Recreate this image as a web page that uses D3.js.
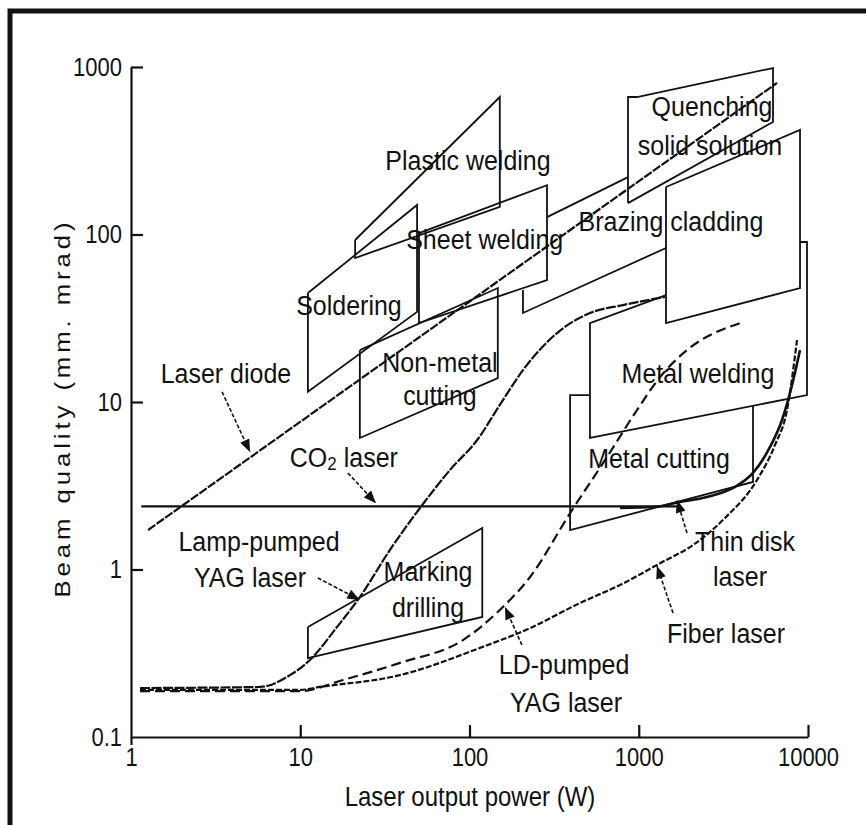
<!DOCTYPE html>
<html>
<head>
<meta charset="utf-8">
<script src="https://cdn.jsdelivr.net/npm/d3@7/dist/d3.min.js"></script>
<style>
  body { margin: 0; background: #fff; }
  svg text { font-family: "Liberation Sans", Arial, sans-serif; fill: #111; }
  .lbl { transform-box: fill-box; transform-origin: center; transform: scaleY(1.12); }
  .tick text { transform-box: fill-box; transform-origin: center; transform: scaleY(1.15); }
</style>
</head>
<body>
<svg id="chart" width="866" height="825"></svg>
<script>
// axes
var xTicks = [1, 10, 100, 1000, 10000];
var yTicks = [0.1, 1, 10, 100, 1000];

// application regions, [power W, beam quality mm.mrad]
var plasticWelding = [[21.1, 92.7], [151, 662], [151, 146], [21.1, 72.4], [21.1, 92.7]];
var soldering = [[11.1, 44.7], [49.0, 150], [49.0, 34.5], [11.1, 11.5], [11.1, 44.7]];
var sheetWelding = [[50.3, 102], [287, 197], [287, 53.5], [50.3, 29.6], [50.3, 102]];
var nonMetalCutting = [[22.5, 20.4], [147, 47.9], [147, 13.9], [22.5, 6.10], [22.5, 20.4]];
var quenching = [[864, 154], [864, 662], [977, 662], [6212, 986], [6212, 470], [864, 154]];
var brazingLow = [[207, 46.6], [207, 34.0], [1449, 83.1]];
var brazingTop = [[287, 127], [864, 220]];
var cladding = [[1449, 192], [8970, 421], [8970, 47.9], [1449, 29.6], [1449, 192]];
var metalWelding = [[1449, 43.5], [515, 29.6], [515, 6.10], [9865, 11.0], [9865, 90.2], [8970, 90.2]];
var metalCutting = [[515, 11.0], [393, 11.0], [393, 1.72], [4732, 3.33], [4732, 9.46]];
var markingDrilling = [[11.1, 0.454], [119, 1.77], [119, 0.521], [11.1, 0.296], [11.1, 0.454]];

// laser sources
var laserDiode = [[1.26, 1.72], [6561, 803]];
var co2Laser = [[1.15, 2.38], [1753, 2.38]];
var lampYag = [[1.13, 0.196], [5.78, 0.199], [8.70, 0.234], [11.4, 0.288], [16.5, 0.454], [22.5, 0.685],
  [33.9, 1.31], [51.0, 2.33], [76.7, 3.93], [111, 5.93], [151, 9.60], [207, 15.5], [329, 25.8],
  [515, 34.0], [807, 37.9], [1429, 42.4]];
var ldYag = [[1.13, 0.188], [10, 0.188], [17.9, 0.219], [38.8, 0.277], [91.5, 0.379], [151, 0.573],
  [228, 0.902], [393, 2.17], [649, 4.69], [977, 8.96], [1336, 14.1], [1928, 20.4], [3965, 29.6]];
var fiberLaser = [[1.13, 0.191], [10, 0.191], [13.1, 0.199], [38.8, 0.234], [115, 0.340], [228, 0.447],
  [450, 0.631], [775, 0.808], [1336, 1.09], [2092, 1.40], [3232, 2.03], [4996, 3.42], [6383, 5.54],
  [7516, 8.96], [8610, 23.4]];
var thinDisk = [[775, 2.33], [1214, 2.36], [1753, 2.53], [2531, 2.71], [3606, 3.07], [4732, 3.77],
  [5965, 5.39], [7022, 7.81], [8044, 12.6], [8970, 20.4]];

// text labels: [text, power, quality]
var labels = [
  ["Plastic welding", 98, 278], ["Quenching", 2710, 577], ["solid solution", 2636, 342],
  ["Sheet welding", 123, 92.7], ["Brazing cladding", 1551, 119], ["Soldering", 19.4, 37.9],
  ["Non-metal", 66.9, 17.3], ["cutting", 66.9, 10.9], ["Laser diode", 3.64, 14.7],
  ["Metal welding", 2239, 14.7], ["Metal cutting", 1317, 4.63],
  ["Lamp-pumped", 5.71, 1.46], ["YAG laser", 5.05, 0.89], ["Marking", 56.9, 0.966],
  ["drilling", 56.9, 0.597], ["Thin disk", 4244, 1.46], ["laser", 3965, 0.902],
  ["Fiber laser", 3278, 0.412], ["LD-pumped", 362, 0.269], ["YAG laser", 372, 0.160]
];
var co2Label = [18.1, 4.63];

// leader arrows: from label to curve
var arrows = [
  [[3.45, 11.5], [5.05, 5.03]],
  [[19.1, 3.77], [28.0, 2.49]],
  [[12.7, 0.89], [22.5, 0.658]],
  [[204, 0.354], [162, 0.597]],
  [[1594, 0.550], [1281, 1.05]],
  [[1928, 1.65], [1683, 2.60]]
];

var svg = d3.select("#chart");

var x = d3.scaleLog().domain([1, 10000]).range([131, 808]);
var y = d3.scaleLog().domain([0.1, 1000]).range([737, 67]);

svg.append("rect")
  .attr("x", 10).attr("y", 11)
  .attr("width", 900).attr("height", 860)
  .attr("fill", "none")
  .attr("stroke", "#111")
  .attr("stroke-width", 5);

svg.append("defs").append("marker")
  .attr("id", "head")
  .attr("viewBox", "0 0 10 8")
  .attr("refX", 10).attr("refY", 4)
  .attr("markerWidth", 14).attr("markerHeight", 10)
  .attr("markerUnits", "userSpaceOnUse")
  .attr("orient", "auto")
  .append("path")
  .attr("d", "M0,0L10,4L0,8z")
  .attr("fill", "#111");

// axes
var xAxis = d3.axisBottom(x).tickValues(xTicks).tickFormat(d3.format("d"))
  .tickSizeInner(-12).tickSizeOuter(0).tickPadding(12);
var yAxis = d3.axisLeft(y).tickValues(yTicks).tickFormat(function(d) { return d < 1 ? "0.1" : d3.format("d")(d); })
  .tickSizeInner(-12).tickSizeOuter(0).tickPadding(9);

var gx = svg.append("g").attr("transform", "translate(0,737)").call(xAxis);
var gy = svg.append("g").attr("transform", "translate(131,0)").call(yAxis);
[gx, gy].forEach(function(g) {
  g.selectAll("path, line").attr("stroke", "#111").attr("stroke-width", 2.2);
  g.selectAll("text").attr("font-size", 22).attr("fill", "#111")
    .attr("font-family", "'Liberation Sans', Arial, sans-serif");
});
gy.selectAll(".tick").filter(function(d) { return d === 0.1; }).select("line").remove();
gx.selectAll(".tick").filter(function(d) { return d === 1; }).select("line").attr("y2", 8);

svg.append("text")
  .attr("class", "lbl")
  .attr("x", 470).attr("y", 797)
  .attr("text-anchor", "middle").attr("dominant-baseline", "central")
  .attr("font-size", 24)
  .text("Laser output power (W)");

svg.append("text")
  .attr("x", 62).attr("y", 408)
  .attr("text-anchor", "middle").attr("dominant-baseline", "central")
  .attr("font-size", 23)
  .attr("letter-spacing", 3.5)
  .style("transform-box", "fill-box")
  .style("transform-origin", "center")
  .style("transform", "rotate(-90deg) scaleX(1.12)")
  .text("Beam quality (mm. mrad)");

var line = d3.line().x(function(d) { return x(d[0]); }).y(function(d) { return y(d[1]); });
var smooth = d3.line().curve(d3.curveMonotoneX)
  .x(function(d) { return x(d[0]); }).y(function(d) { return y(d[1]); });

var regions = [plasticWelding, soldering, sheetWelding, nonMetalCutting, quenching, brazingLow,
  brazingTop, cladding, metalWelding, metalCutting, markingDrilling];

svg.append("g").selectAll("path")
  .data(regions)
  .enter().append("path")
  .attr("d", line)
  .attr("fill", "none")
  .attr("stroke", "#111")
  .attr("stroke-width", 1.8)
  .attr("stroke-linejoin", "miter");

var sources = [
  { pts: laserDiode, dash: "9,1.5", w: 2.2 },
  { pts: co2Laser, dash: null, w: 2.4 },
  { pts: lampYag, dash: "10,1.5", w: 2.2 },
  { pts: ldYag, dash: "10,5", w: 2.2 },
  { pts: fiberLaser, dash: "6,2", w: 2.2 },
  { pts: thinDisk, dash: null, w: 2.6 }
];

svg.append("g").selectAll("path")
  .data(sources)
  .enter().append("path")
  .attr("d", function(d) { return smooth(d.pts); })
  .attr("fill", "none")
  .attr("stroke", "#111")
  .attr("stroke-width", function(d) { return d.w; })
  .attr("stroke-dasharray", function(d) { return d.dash; });

svg.append("g").selectAll("path")
  .data(arrows)
  .enter().append("path")
  .attr("d", line)
  .attr("fill", "none")
  .attr("stroke", "#111")
  .attr("stroke-width", 1.6)
  .attr("stroke-dasharray", "4,2")
  .attr("marker-end", "url(#head)");

svg.append("g").selectAll("text")
  .data(labels)
  .enter().append("text")
  .attr("class", "lbl")
  .attr("x", function(d) { return x(d[1]); })
  .attr("y", function(d) { return y(d[2]); })
  .attr("text-anchor", "middle")
  .attr("dominant-baseline", "central")
  .attr("font-size", 25)
  .text(function(d) { return d[0]; });

var co2 = svg.append("text")
  .attr("class", "lbl")
  .attr("x", x(co2Label[0]))
  .attr("y", y(co2Label[1]))
  .attr("text-anchor", "middle")
  .attr("dominant-baseline", "central")
  .attr("font-size", 25);
co2.append("tspan").text("CO");
co2.append("tspan").attr("font-size", 17).attr("dy", 5).text("2");
co2.append("tspan").attr("dy", -5).text(" laser");
</script>
</body>
</html>
